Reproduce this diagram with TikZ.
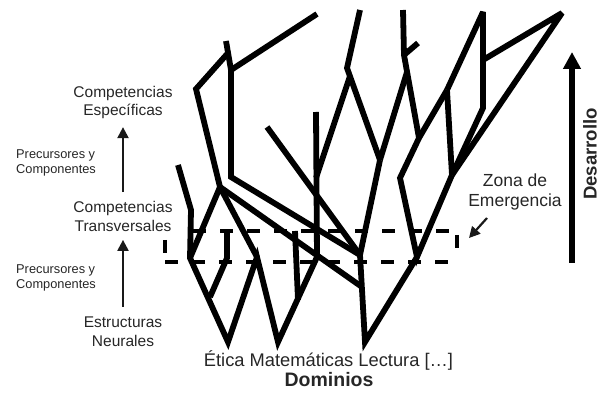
\documentclass[tikz,border=0pt]{standalone}
\usepackage{fontspec}
\setmainfont{Liberation Sans}
\usetikzlibrary{arrows.meta}
\begin{document}
\begin{tikzpicture}[x=1pt,y=-1pt,
  branch/.style={line width=5.8pt, line join=miter, miter limit=4},
  zone/.style={line width=3.3pt, dash pattern=on 13pt off 14pt},
  lbl/.style={text=black!85, inner sep=0pt, align=center},
  midfont/.style={font=\fontsize{15.5}{18.4}\selectfont},
  smallfont/.style={font=\fontsize{12.8}{15}\selectfont},
  thinarrow/.style={line width=2.2pt, -{Triangle[length=11pt,width=11pt]}, black!90},
  bigarrow/.style={line width=6pt, -{Triangle[length=17pt,width=17pt]}}
]
\useasboundingbox (0,0) rectangle (602,395);

% ---------- tree points ----------
\coordinate (rA) at (228,342);
\coordinate (rB) at (278,342);
\coordinate (rC) at (365,342);
\coordinate (a1) at (190,258);
\coordinate (a2) at (191,210);
\coordinate (a3) at (178,165);
\coordinate (j)  at (220,187);
\coordinate (p1) at (196,89);
\coordinate (p2) at (228,53);
\coordinate (s1) at (226,41);
\coordinate (s2) at (231,70);
\coordinate (s3) at (231,177);
\coordinate (t1) at (317,14);
\coordinate (w1) at (257,257);
\coordinate (b1) at (210,297);
\coordinate (b2) at (227,258);
\coordinate (b3) at (227,231);
\coordinate (v1) at (317,257);
\coordinate (v2) at (316,112);
\coordinate (v3) at (316,178);
\coordinate (c1) at (298,300);
\coordinate (c2) at (295,231);
\coordinate (m1) at (360,255);
\coordinate (m2) at (362,287);
\coordinate (k1) at (380,160);
\coordinate (e1) at (267,127);
\coordinate (q1) at (360,10);
\coordinate (q2) at (347,68);
\coordinate (q3) at (350,76);
\coordinate (r1) at (403,10);
\coordinate (r2) at (404,55);
\coordinate (r3) at (418,43);
\coordinate (r4) at (407,72);
\coordinate (r5) at (419,138);
\coordinate (top) at (483,12);
\coordinate (la1) at (447,90);
\coordinate (la2) at (400,178);
\coordinate (g1) at (417,257);
\coordinate (g2) at (452,175);
\coordinate (vk) at (483,108);
\coordinate (ld0) at (483,60);
\coordinate (ld1) at (562,13);

% ---------- tree ----------
\draw[branch] (a3) -- (a2) -- (a1) -- (rA) -- (w1) -- (rB) -- (v1) -- (v2);
\draw[branch] (a1) -- (j) -- (w1);
\draw[branch] (p2) -- (p1) -- (j);
\draw[branch] (s1) -- (s2) -- (s3) -- (m1);
\draw[branch] (s2) -- (t1);
\draw[branch] (j) -- (m2);
\draw[branch] (b1) -- (b2) -- (b3);
\draw[branch] (c1) -- (c2);
\draw[branch] (e1) -- (m1);
\draw[branch] (q1) -- (q2) -- (k1);
\draw[branch] (q3) -- (v3);
\draw[branch] (r1) -- (r2) -- (r5);
\draw[branch] (r3) -- (r2);
\draw[branch] (r4) -- (k1);
\draw[branch] (k1) -- (m1) -- (rC) -- (g1);
\draw[branch] (la1) -- (top) -- (vk) -- (g2);
\draw[branch] (la1) -- (r5) -- (la2) -- (g1) -- (g2);
\draw[branch] (la1) -- (g2);
\draw[branch] (ld0) -- (ld1) -- (g2);

% ---------- emergence zone ----------
\draw[zone] (193,231) -- (457,231);
\draw[zone] (165,262) -- (457,262);
\draw[zone] (165,240) -- (165,253);
\draw[zone] (457,235) -- (457,258);

% ---------- left labels ----------
\node[lbl, midfont] (ce) at (123,102.5) {Competencias\\Específicas};
\node[lbl, midfont] (ct) at (123,216.3) {Competencias\\Transversales};
\node[lbl, midfont] (en) at (123,331.8) {Estructuras\\Neurales};
\node[lbl, smallfont, anchor=west, align=left] (pc1) at (16,163) {Precursores y\\Componentes};
\node[lbl, smallfont, anchor=west, align=left] (pc2) at (16,278) {Precursores y\\Componentes};
\draw[thinarrow] ([yshift=9pt]ct.north) -- ([yshift=-8pt]ce.south);
\draw[thinarrow] ([yshift=10pt]en.north) -- ([yshift=-8.5pt]ct.south);

% ---------- right labels ----------
\node[lbl, font=\fontsize{17.5}{20}\selectfont] (ze) at (515,192) {Zona de\\Emergencia};
\coordinate (zs) at (487,218);
\coordinate (zt) at (469,238);
\draw[thinarrow] (zs) -- (zt);
\coordinate (db) at (572,263);
\coordinate (dt) at (572,52);
\draw[bigarrow] (db) -- (dt);
\node[lbl, rotate=90, font=\fontsize{18.6}{20}\selectfont\bfseries] (des) at (590,154) {Desarrollo};

% ---------- bottom labels ----------
\node[lbl, font=\fontsize{18.3}{20}\selectfont] (dom) at (328.5,360) {Ética Matemáticas Lectura […]};
\node[lbl, font=\fontsize{19.5}{20}\selectfont\bfseries] (domt) at (329,380) {Dominios};
\end{tikzpicture}
\end{document}
